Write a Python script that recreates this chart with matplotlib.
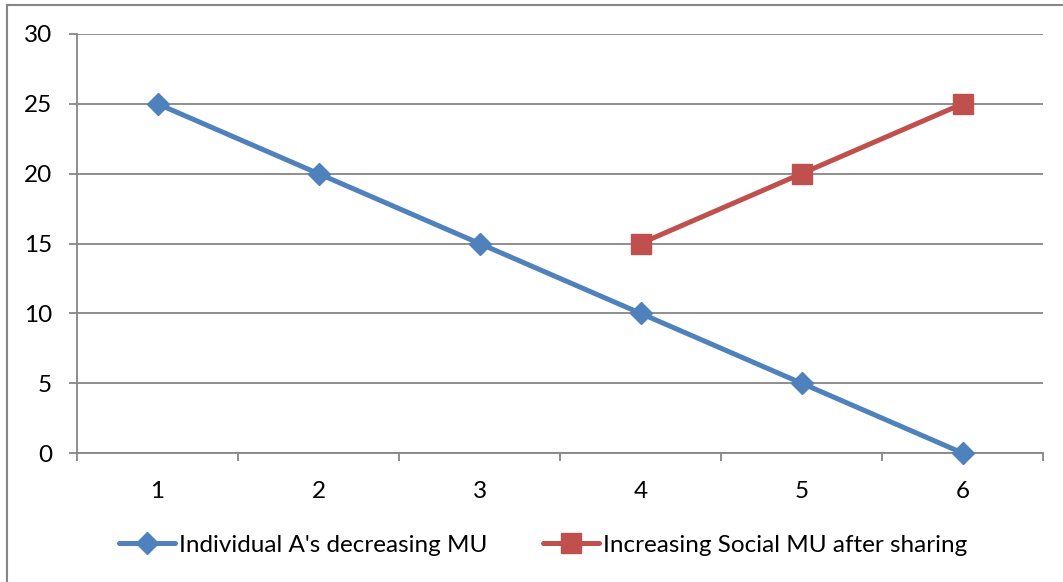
import numpy as np
import matplotlib.pyplot as plt
from matplotlib.lines import Line2D

categories = [1, 2, 3, 4, 5, 6]
individual_mu = [25, 20, 15, 10, 5, 0]
social_mu = [None, None, None, 15, 20, 25]
y_ticks = [0, 5, 10, 15, 20, 25, 30]

blue = '#4F81BD'
red = '#C0504D'
grid_col = '#868686'

plt.rcParams['font.family'] = ['Lato', 'DejaVu Sans']

fig = plt.figure(figsize=(10.63, 5.82), dpi=100)
ax = fig.add_axes([77 / 1063, 1 - 453 / 582, (1043 - 77) / 1063, (453 - 34) / 582])

x = np.arange(len(categories))
ax.plot(x, individual_mu, color=blue, lw=3.6, marker='D', ms=11, mec=blue, mfc=blue,
        solid_capstyle='round', clip_on=False, zorder=3)
soc = np.array([np.nan if v is None else v for v in social_mu], dtype=float)
ax.plot(x, soc, color=red, lw=3.6, marker='s', ms=15, mec=red, mfc=red,
        solid_capstyle='round', clip_on=False, zorder=3)

ax.set_xlim(-0.5, len(categories) - 0.5)
ax.set_ylim(0, 30)
ax.set_yticks(y_ticks)
ax.set_yticklabels([str(v) for v in y_ticks])
ax.yaxis.grid(True, color=grid_col, lw=1.3)
ax.set_axisbelow(True)

ax.set_xticks(x)
ax.set_xticklabels([str(c) for c in categories])
ax.set_xticks(np.arange(-0.5, len(categories)), minor=True)
ax.tick_params(axis='x', which='major', length=0, pad=20, labelsize=17.5)
ax.tick_params(axis='x', which='minor', length=6, width=1.3, color=grid_col)
ax.tick_params(axis='y', length=6, width=1.3, color=grid_col, pad=12, labelsize=17.5)

for s in ['top', 'right']:
    ax.spines[s].set_visible(False)
for s in ['left', 'bottom']:
    ax.spines[s].set_color(grid_col)
    ax.spines[s].set_linewidth(1.3)

handles = [
    Line2D([], [], color=blue, lw=3.6, marker='D', ms=11, solid_capstyle='round'),
    Line2D([], [], color=red, lw=3.6, marker='s', ms=15, solid_capstyle='round'),
]
fig.legend(handles, ["Individual A's decreasing MU", 'Increasing Social MU after sharing'],
           loc='center', bbox_to_anchor=(0.511, 1 - 545 / 582), ncol=2, frameon=False,
           fontsize=17.5, handlelength=2.3, handletextpad=0.15, columnspacing=2.3)

# chart border (top and left visible)
fig.add_artist(Line2D([7 / 1063, 7 / 1063], [0, 1 - 5 / 582], transform=fig.transFigure,
                      color=grid_col, lw=1.5))
fig.add_artist(Line2D([7 / 1063, 1], [1 - 5 / 582, 1 - 5 / 582], transform=fig.transFigure,
                      color=grid_col, lw=1.5))

fig.savefig('out.png', dpi=100)
